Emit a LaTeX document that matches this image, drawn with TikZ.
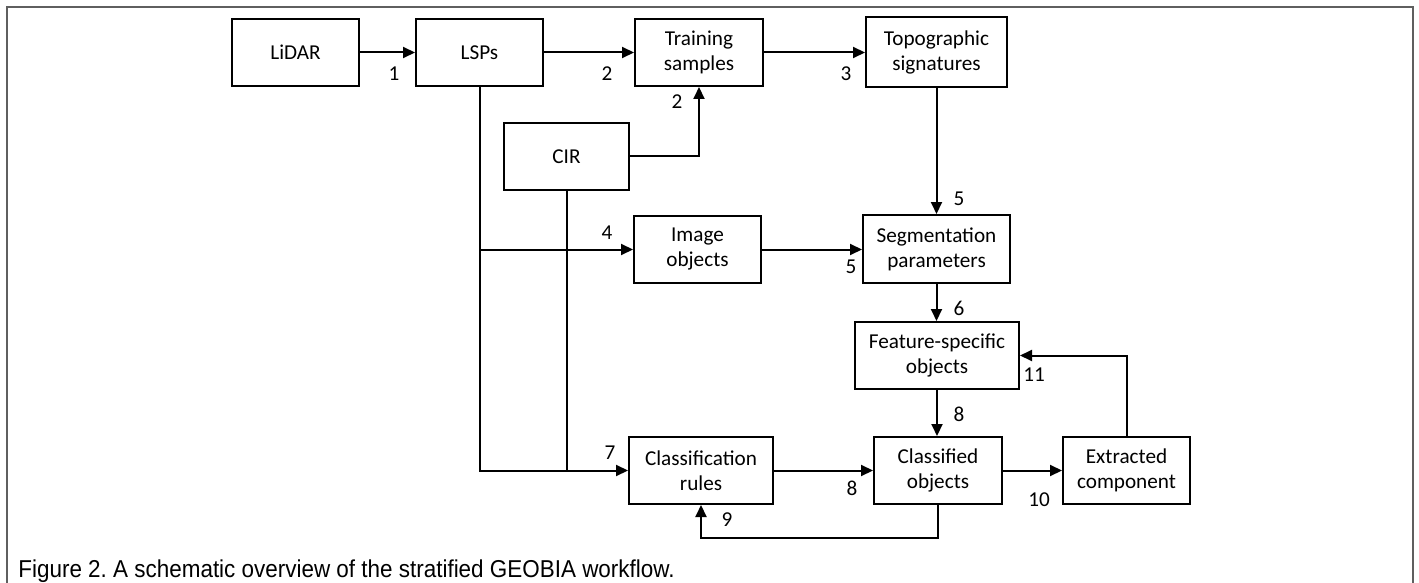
\documentclass[tikz,border=0pt]{standalone}
\usepackage{fontspec}
\setmainfont{Carlito}
\newfontfamily\captionfont{Liberation Sans}
\usetikzlibrary{arrows.meta}
\definecolor{frameGray}{RGB}{95,95,95}
\tikzstyle{stepBox}=[shape = rectangle, draw, line width = 1pt, align = center, minimum width = 63.5pt, minimum height = 33.5pt, inner sep = 0pt, font = \fontsize{10.6}{12.5}\selectfont]
\tikzstyle{stepNumber}=[inner sep = 0pt, font = \fontsize{10.6}{12.5}\selectfont]
\tikzstyle{flowLine}=[draw, line width = 1pt]
\tikzstyle{flowArrow}=[draw, line width = 1pt, -{Triangle[length = 6pt, width = 5.5pt]}]

\begin{document}
\begin{tikzpicture}[x = 0.5pt, y = -0.5pt]
\useasboundingbox (0,0) rectangle (1419,583);
\draw[line width = 1pt, color = frameGray] (7,583) -- (7,7) -- (1413,7) -- (1413,583);
% boxes
\node[stepBox] (lidar) at (295.5,52.5) {LiDAR};
\node[stepBox] (lsps) at (479.5,52.5) {LSPs};
\node[stepBox, minimum width = 64pt] (train) at (699,52.5) {Training\\samples};
\node[stepBox, minimum width = 70.5pt, minimum height = 35pt] (topo) at (936.5,52.5) {Topographic\\signatures};
\node[stepBox, minimum width = 62.5pt] (cir) at (566.5,156.5) {CIR};
\node[stepBox] (image) at (697.5,249.5) {Image\\objects};
\node[stepBox, minimum width = 73.5pt, minimum height = 34pt] (seg) at (936.5,249) {Segmentation\\parameters};
\node[stepBox, minimum width = 82pt] (feat) at (937,355.5) {Feature-specific\\objects};
\node[stepBox, minimum width = 72pt] (rules) at (701,470.5) {Classification\\rules};
\node[stepBox, minimum width = 64pt] (classified) at (938,470.5) {Classified\\objects};
\node[stepBox] (extract) at (1126.5,470.5) {Extracted\\component};
% connectors
\draw[flowArrow] (lidar) -- (lsps);
\draw[flowArrow] (lsps) -- (train);
\draw[flowArrow] (train) -- (topo);
\draw[flowArrow] (cir.east) -| (train.south);
\draw[flowArrow] (topo) -- (seg);
\draw[flowArrow] (lsps.south) |- (rules.west);
\draw[flowArrow] (lsps.south |- image.west) -- (image.west);
\draw[flowLine] (cir.south) -- (cir.south |- rules.west);
\draw[flowArrow] (image.east) -- (image.east -| seg.west);
\draw[flowArrow] (seg.south) -- (seg.south |- feat.north);
\draw[flowArrow] (feat.south) -- (feat.south |- classified.north);
\draw[flowArrow] (rules) -- (classified);
\draw[flowArrow] (classified) -- (extract);
\draw[flowArrow] (extract.north) |- (feat.east);
\draw[flowArrow] (classified.south) -- ++(0,33) -| (rules.south);
% step numbers
\node[stepNumber] (n1) at (394,74) {1};
\node[stepNumber] (n2a) at (607,74) {2};
\node[stepNumber] (n2b) at (677,102) {2};
\node[stepNumber] (n3) at (846,74) {3};
\node[stepNumber] (n4) at (607,233) {4};
\node[stepNumber] (n5a) at (959,199) {5};
\node[stepNumber] (n5b) at (851,267) {5};
\node[stepNumber] (n6) at (959,308) {6};
\node[stepNumber] (n7) at (610,453) {7};
\node[stepNumber] (n8a) at (959,414) {8};
\node[stepNumber] (n8b) at (852,488) {8};
\node[stepNumber] (n9) at (727,520) {9};
\node[stepNumber] (n10) at (1039,500) {10};
\node[stepNumber] (n11) at (1034,375) {11};
% caption
\node[anchor = base west, inner sep = 0pt, font = \captionfont\fontsize{12.2}{14}\selectfont] (caption) at (18,577) {\frenchspacing\scalebox{0.92}[1]{Figure 2. A schematic overview of the stratified GEOBIA workflow.}};
\end{tikzpicture}
\end{document}
